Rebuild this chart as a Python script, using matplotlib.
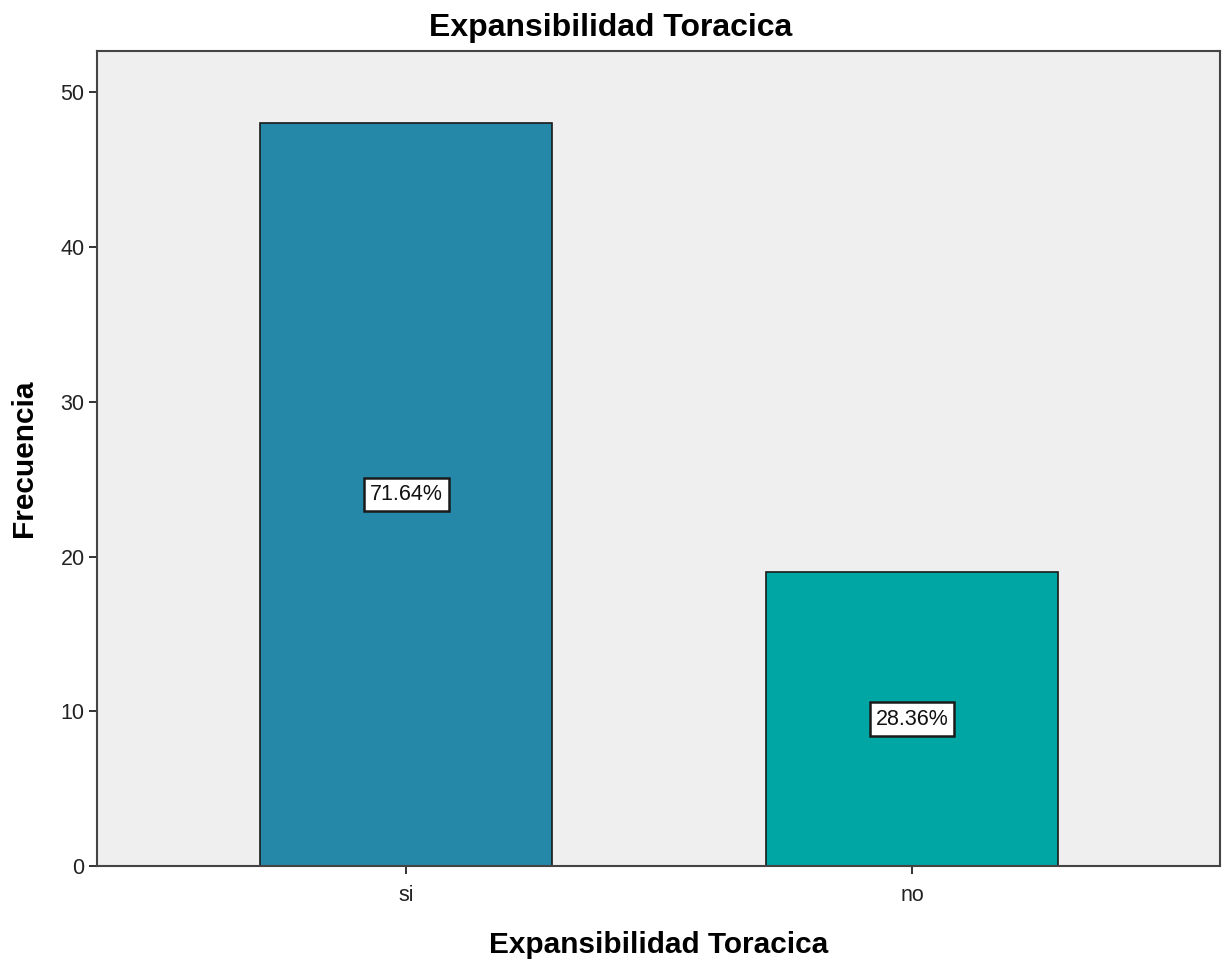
import matplotlib
matplotlib.use("Agg")
import matplotlib.pyplot as plt

categories = ["si", "no"]
counts = [48, 19]
percent_labels = ["71.64%", "28.36%"]
bar_colors = ["#2588a9", "#00a6a4"]

plt.rcParams["font.family"] = ["Liberation Sans", "DejaVu Sans"]

fig = plt.figure(figsize=(12.22, 9.59), dpi=100)
ax = fig.add_axes([0.0794, 0.097, 0.919, 0.8498])
ax.set_facecolor("#efefef")

x = list(range(len(categories)))
bars = ax.bar(x, counts, width=0.577, color=bar_colors, edgecolor="#1a1a1a", linewidth=1.2, zorder=2)

for b, lab in zip(bars, percent_labels):
    ax.text(b.get_x() + b.get_width() / 2, b.get_height() / 2, lab,
            ha="center", va="center", fontsize=15.5, color="#111111", zorder=3,
            bbox=dict(boxstyle="square,pad=0.28", facecolor="white", edgecolor="#1a1a1a", linewidth=1.8))

ax.set_xlim(-0.611, 1.609)
ax.set_ylim(0, 52.68)
ax.set_xticks(x)
ax.set_xticklabels(categories)
ax.set_yticks([0, 10, 20, 30, 40, 50])
ax.tick_params(axis="both", labelsize=15.5, length=6, width=1.4, color="#333333", labelcolor="#222222")
ax.tick_params(axis="x", pad=8)
ax.tick_params(axis="y", pad=3)

for s in ax.spines.values():
    s.set_color("#444444")
    s.set_linewidth(1.5)

fig.text(0.5, 1 - 28 / 959, "Expansibilidad Toracica", ha="center", va="center",
         fontsize=23, fontweight="bold")
ax.set_xlabel("Expansibilidad Toracica", fontsize=21.4, fontweight="bold", labelpad=18)
ax.set_ylabel("Frecuencia", fontsize=21.5, fontweight="bold", labelpad=16)

fig.savefig("out.png", dpi=100)
